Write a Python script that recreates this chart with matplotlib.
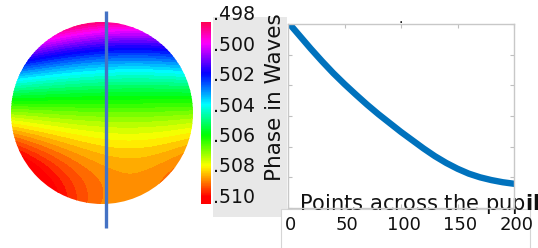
import numpy as np
import matplotlib
matplotlib.use("Agg")
import matplotlib.pyplot as plt
from matplotlib.patches import Rectangle, Circle
import matplotlib.transforms as mtransforms

plt.rcParams['font.family'] = ['DejaVu Sans']

# ---------------- data ----------------
cbar_ticks = [0.498, 0.500, 0.502, 0.504, 0.506, 0.508, 0.510]
cbar_labels = ['.498', '.500', '.502', '.504', '.506', '.508', '.510']
cbar_min, cbar_max = 0.49846, 0.51046

# wavefront map model coefficients (phase in waves over the unit pupil)
wf_piston = 0.50677
wf_tilt_v = -0.005123
wf_curv_v = -0.002927
wf_tilt_u = -0.0001
wf_uv = 0.0012          # u * v term
wf_uu = 0.00022         # u^2 term
wf_uuv = -0.00186       # u^2 * v term

# cut across the pupil
cut_points = [3, 10, 20, 30, 40, 50, 60, 70, 80, 90, 100,
              110, 120, 130, 140, 150, 160, 170, 180, 190, 198]
cut_phase = [0.50986, 0.50926, 0.50840, 0.50758, 0.50680, 0.50608, 0.50540,
             0.50474, 0.50412, 0.50354, 0.50296, 0.50242, 0.50188, 0.50138,
             0.50094, 0.50056, 0.50024, 0.50000, 0.49982, 0.49968, 0.49960]
x_ticks = [0, 50, 100, 150, 200]
x_ticklabels = ['0', '50', '100', '150', '200']
y_ticks = [0.498, 0.500, 0.502, 0.504, 0.506, 0.508, 0.510]

# ---------------- figure ----------------
W, H = 538, 248
fig = plt.figure(figsize=(W / 100, H / 100), dpi=100)


def px_axes(l, t, r, b):
    return fig.add_axes([l / W, 1 - b / H, (r - l) / W, (b - t) / H])


# gray backdrop behind colorbar labels
fig.add_artist(Rectangle((213 / W, 1 - 217 / H), (287 - 213) / W, (217 - 17) / H,
                         transform=fig.transFigure, facecolor='#E8E8E8',
                         edgecolor='none', zorder=-2))
# white box behind x tick labels
fig.add_artist(Rectangle((281 / W, 1 - 260 / H), (530 - 281) / W, (260 - 209) / H,
                         transform=fig.transFigure, facecolor='white',
                         edgecolor='#D5D5D5', linewidth=0.8, zorder=-1))

# ---------------- pupil map ----------------
axd = px_axes(11, 22, 193, 204)
g = np.linspace(-1, 1, 400)
U, V = np.meshgrid(g, g)
Z = (wf_piston + wf_tilt_v * V + wf_curv_v * V ** 2 + wf_tilt_u * U
     + wf_uv * U * V + (wf_uu + wf_uuv * V) * U ** 2)
levels = np.linspace(0.498, 0.510, 49)
cs = axd.contourf(U, V, Z, levels=levels, cmap='hsv_r', vmin=0.498, vmax=0.510,
                  extend='both')
circ = Circle((0, 0), 1, transform=axd.transData)
cs.set_clip_path(circ)
axd.set_xlim(-1, 1)
axd.set_ylim(-1, 1)
axd.set_aspect('equal')
axd.axis('off')
axd.plot([0.044, 0.044], [1.12, -1.264], color='#4472C4', lw=2.4,
         solid_capstyle='butt', clip_on=False, zorder=5)

# ---------------- colorbar ----------------
axc = px_axes(201, 15, 211, 204)
edges = np.linspace(cbar_min, cbar_max, 257)
vals = 0.5 * (edges[:-1] + edges[1:])
axc.pcolormesh([0, 1], edges, vals[:, None], cmap='hsv_r', vmin=0.498, vmax=0.510,
               shading='flat')
axc.set_xlim(0, 1)
axc.set_ylim(cbar_max, 0.498)
axc.set_xticks([])
axc.set_yticks([])
for s in axc.spines.values():
    s.set_visible(False)
btr = mtransforms.blended_transform_factory(axc.transAxes, axc.transData)
lab_off = mtransforms.ScaledTranslation(2 / 100, 0, fig.dpi_scale_trans)
for t, lab in zip(cbar_ticks, cbar_labels):
    axc.text(1.0, t, lab, transform=btr + lab_off, ha='left', va='center',
             fontsize=13.6, color='#111111', clip_on=False)

# ---------------- line plot ----------------
axp = px_axes(288, 24, 514, 208)
axp.set_facecolor('white')
axp.plot(cut_points, cut_phase, color='#0072BD', lw=4.6)
axp.set_xlim(0, 200)
axp.set_ylim(0.498, 0.510)
axp.set_xticks(x_ticks)
axp.set_xticklabels(x_ticklabels)
axp.set_yticks(y_ticks)
axp.set_yticklabels([''] * len(y_ticks))
axp.tick_params(direction='in', length=3, color='#BFBFBF', top=True, right=True,
                labelleft=False, labelright=False, labelsize=13, pad=6,
                labelcolor='#111111')
for s in axp.spines.values():
    s.set_color('#C8C8C8')
    s.set_linewidth(1.0)
axp.set_title('.', fontsize=10, pad=1.0)
axp.set_ylabel('Phase in Waves', fontsize=15.5, color='#111111')
axp.yaxis.set_label_coords(-0.013, 0.60)
axp.set_xlabel(r'Points across the pup$\mathbf{il}$', fontsize=15.1, color='#111111')
axp.xaxis.set_label_coords(0.58, 0.087)
off = mtransforms.ScaledTranslation(2.5 / 100, 0, fig.dpi_scale_trans)
for lab in axp.get_xticklabels():
    lab.set_transform(lab.get_transform() + off)

fig.savefig('out.png', dpi=100)
